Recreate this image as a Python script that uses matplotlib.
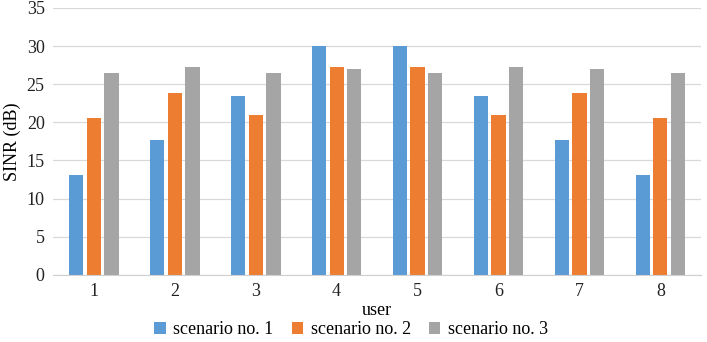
import numpy as np
import matplotlib
matplotlib.use("Agg")
import matplotlib.pyplot as plt

plt.rcParams['font.family'] = ['Liberation Serif', 'DejaVu Serif']

# data
users = ['1', '2', '3', '4', '5', '6', '7', '8']
scenario_1 = [13.1, 17.7, 23.5, 30.0, 30.0, 23.5, 17.7, 13.1]
scenario_2 = [20.6, 23.9, 20.9, 27.3, 27.3, 20.9, 23.9, 20.6]
scenario_3 = [26.4, 27.2, 26.5, 27.0, 26.5, 27.2, 27.0, 26.4]
series_names = ['scenario no. 1', 'scenario no. 2', 'scenario no. 3']
colors = ['#5B9BD5', '#ED7D31', '#A5A5A5']

fig = plt.figure(figsize=(7.07, 3.42), dpi=100)
ax = fig.add_axes([0.075, 0.196, 0.9165, 0.781])

x = np.arange(len(users))
pitch = 0.222
width = 0.173
for i, (vals, name, c) in enumerate(zip([scenario_1, scenario_2, scenario_3], series_names, colors)):
    ax.bar(x + (i - 1) * pitch, vals, width=width, color=c, label=name, zorder=3)

ax.set_xlim(-0.5, len(users) - 0.5)
ax.set_ylim(0, 35)
ax.set_yticks(range(0, 36, 5))
ax.set_xticks(x)
ax.set_xticklabels(users)
ax.tick_params(axis='both', length=0, labelsize=13, colors='#222222')
ax.tick_params(axis='x', pad=6)
ax.tick_params(axis='y', pad=6)

ax.grid(axis='y', color='#d9d9d9', linewidth=0.9, zorder=0)
for s in ['top', 'right', 'left']:
    ax.spines[s].set_visible(False)
ax.spines['bottom'].set_color('#d0d0d0')
ax.spines['bottom'].set_zorder(4)

ax.set_xlabel('user', fontsize=13, labelpad=1)
ax.set_ylabel('SINR (dB)', fontsize=13, labelpad=4)

ax.legend(loc='center', bbox_to_anchor=(0.46, -0.205), ncol=3, frameon=False,
          fontsize=13, handlelength=0.65, handleheight=0.65, handletextpad=0.4,
          columnspacing=1.0, borderaxespad=0, borderpad=0)

fig.savefig('out.png', dpi=100)
